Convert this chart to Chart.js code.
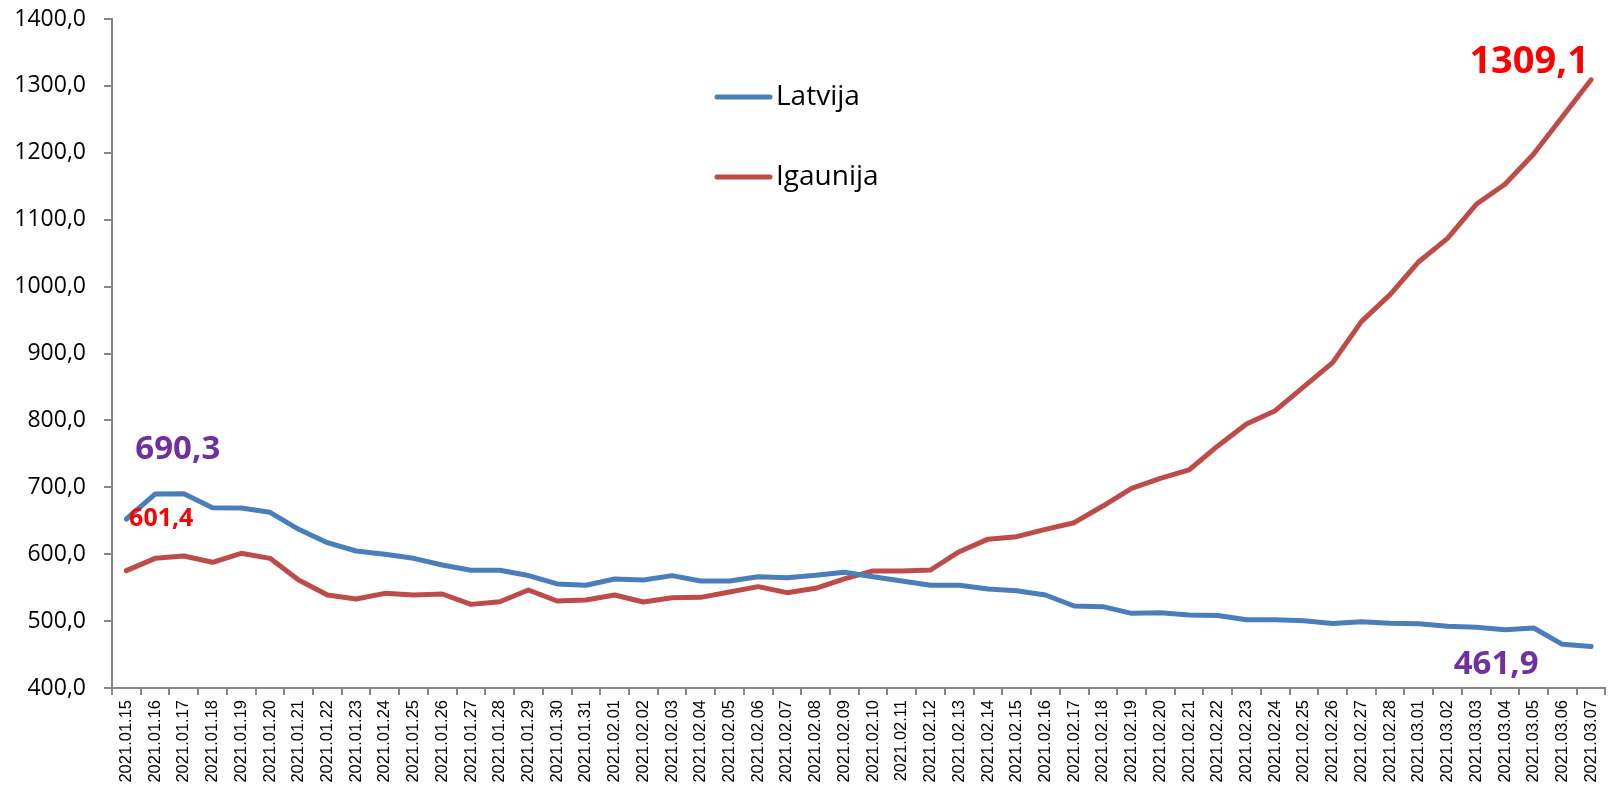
<!DOCTYPE html>
<html>
<head>
<meta charset="utf-8">
<script src="https://cdn.jsdelivr.net/npm/chart.js@4"></script>
<style>
  body { margin: 0; background: #fff; }
  #wrap { width: 1616px; height: 788px; }
</style>
</head>
<body>
<div id="wrap"><canvas id="chart"></canvas></div>
<script>
var dates = [
  "2021.01.15", "2021.01.16", "2021.01.17", "2021.01.18", "2021.01.19", "2021.01.20",
  "2021.01.21", "2021.01.22", "2021.01.23", "2021.01.24", "2021.01.25", "2021.01.26",
  "2021.01.27", "2021.01.28", "2021.01.29", "2021.01.30", "2021.01.31", "2021.02.01",
  "2021.02.02", "2021.02.03", "2021.02.04", "2021.02.05", "2021.02.06", "2021.02.07",
  "2021.02.08", "2021.02.09", "2021.02.10", "2021.02.11", "2021.02.12", "2021.02.13",
  "2021.02.14", "2021.02.15", "2021.02.16", "2021.02.17", "2021.02.18", "2021.02.19",
  "2021.02.20", "2021.02.21", "2021.02.22", "2021.02.23", "2021.02.24", "2021.02.25",
  "2021.02.26", "2021.02.27", "2021.02.28", "2021.03.01", "2021.03.02", "2021.03.03",
  "2021.03.04", "2021.03.05", "2021.03.06", "2021.03.07"
];

var latvija = [
  652.6, 689.8, 690.3, 669.5, 669.0, 662.6, 637.2, 617.2, 604.8, 599.8, 593.8, 583.9,
  575.9, 575.9, 568.1, 555.5, 553.5, 563.0, 561.4, 568.0, 560.0, 560.0, 566.4, 564.9,
  568.4, 572.9, 566.4, 560.0, 553.5, 553.5, 548.0, 545.5, 539.0, 522.6, 521.6, 511.6,
  512.6, 509.1, 508.3, 502.0, 502.0, 500.5, 496.5, 498.9, 496.7, 496.2, 492.2, 490.7,
  487.2, 489.7, 465.3, 461.9
];

var igaunija = [
  575.4, 593.8, 597.3, 587.9, 601.4, 593.8, 561.4, 539.0, 533.0, 541.5, 539.0, 540.5,
  525.0, 529.0, 546.5, 530.0, 531.5, 539.0, 528.5, 535.0, 535.5, 543.5, 551.5, 542.5,
  549.0, 563.0, 575.0, 575.0, 576.4, 603.7, 622.5, 626.2, 637.2, 647.1, 672.0, 698.5,
  713.4, 725.9, 761.8, 794.6, 814.5, 850.4, 886.3, 947.6, 988.0, 1037.2, 1072.1, 1123.0,
  1152.9, 1198.2, 1254.0, 1309.1
];

var seriesNames = ["Latvija", "Igaunija"];
var seriesColors = ["#4A7EBB", "#BE4B48"];

function fmt(v) {
  return v.toFixed(1).replace(".", ",");
}

// value labels: which point, and where the text sits relative to it
var valueLabels = [
  { ds: 0, idx: 2, dx: -6, dy: -44, color: "#7030A0", size: 33 },
  { ds: 1, idx: 4, dx: -80, dy: -34, color: "#FF0000", size: 25 },
  { ds: 1, idx: 51, dx: -62, dy: -18, color: "#FF0000", size: 38 },
  { ds: 0, idx: 51, dx: -95, dy: 18, color: "#7030A0", size: 33 }
];

var labelPlugin = {
  id: "valueLabels",
  afterDatasetsDraw: function (chart) {
    var ctx = chart.ctx;
    ctx.save();
    valueLabels.forEach(function (l) {
      var pt = chart.getDatasetMeta(l.ds).data[l.idx];
      var v = chart.data.datasets[l.ds].data[l.idx];
      ctx.font = "bold " + l.size + "px 'Open Sans'";
      ctx.fillStyle = l.color;
      ctx.textAlign = "center";
      ctx.textBaseline = "middle";
      ctx.fillText(fmt(v), pt.x + l.dx, pt.y + l.dy);
    });
    ctx.restore();
  }
};

// legend drawn inside the plot, like the original
var legendPlugin = {
  id: "innerLegend",
  afterDraw: function (chart) {
    var ctx = chart.ctx;
    ctx.save();
    chart.data.datasets.forEach(function (ds, i) {
      var y = 97 + i * 80;
      ctx.strokeStyle = ds.borderColor;
      ctx.lineWidth = 5;
      ctx.lineCap = "round";
      ctx.beginPath();
      ctx.moveTo(717, y);
      ctx.lineTo(770, y);
      ctx.stroke();
      ctx.fillStyle = "#000";
      ctx.font = "28px 'Open Sans'";
      ctx.textAlign = "left";
      ctx.textBaseline = "middle";
      ctx.fillText(ds.label, 776, y);
    });
    ctx.restore();
  }
};

var ctx = document.getElementById("chart").getContext("2d");
new Chart(ctx, {
  type: "line",
  data: {
    labels: dates,
    datasets: [
      { label: seriesNames[0], data: latvija, borderColor: seriesColors[0] },
      { label: seriesNames[1], data: igaunija, borderColor: seriesColors[1] }
    ]
  },
  options: {
    responsive: true,
    maintainAspectRatio: false,
    animation: false,
    layout: { padding: { top: 19, right: 8, left: 0, bottom: 0 } },
    elements: {
      point: { radius: 0 },
      line: { borderWidth: 5, tension: 0, borderCapStyle: "round", borderJoinStyle: "round" }
    },
    plugins: {
      legend: { display: false },
      tooltip: { enabled: false }
    },
    scales: {
      x: {
        offset: true,
        grid: { offset: true, drawOnChartArea: false, drawTicks: true, tickLength: 7, color: "#868686", lineWidth: 2 },
        border: { color: "#868686", width: 2 },
        ticks: {
          autoSkip: false,
          maxRotation: 90,
          minRotation: 90,
          padding: 5,
          color: "#000",
          font: { family: "'Liberation Sans'", size: 16.5 }
        },
        afterFit: function (scale) { scale.height = 100; }
      },
      y: {
        min: 400,
        max: 1400,
        grid: { drawOnChartArea: false, drawTicks: true, tickLength: 8, color: "#868686", lineWidth: 2 },
        border: { color: "#868686", width: 2 },
        ticks: {
          stepSize: 100,
          padding: 18,
          color: "#000",
          font: { family: "'Open Sans'", size: 23 },
          callback: function (v) { return fmt(v); }
        },
        afterFit: function (scale) {
          scale.width = 112;
          scale.paddingTop = 0; // top edge comes from layout padding only
        }
      }
    }
  },
  plugins: [labelPlugin, legendPlugin]
});
</script>
</body>
</html>
